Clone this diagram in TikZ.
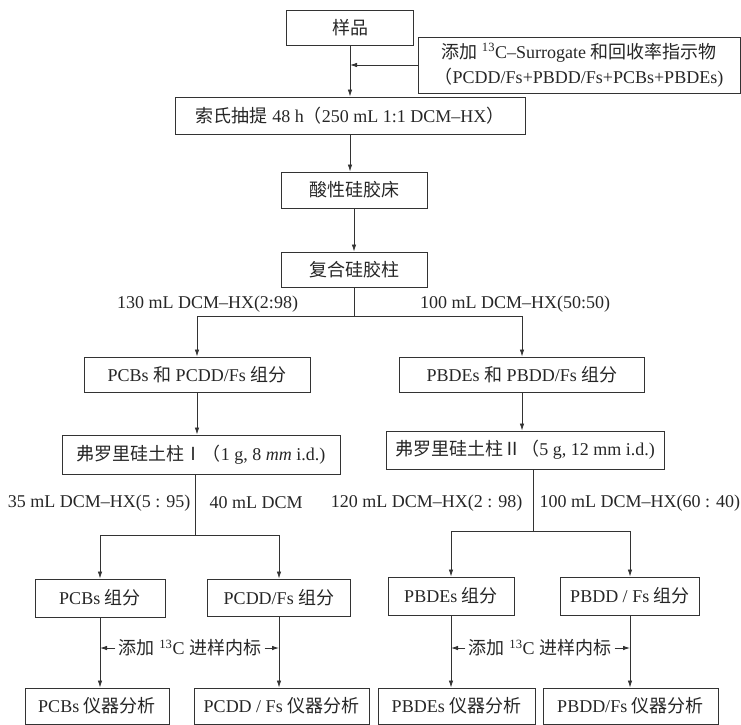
\documentclass[tikz,border=0pt]{standalone}
\usepackage{fontspec}
\setmainfont{Liberation Serif}
\newfontfamily\cjk{Noto Sans CJK SC}
\usepackage{tikz}
\usetikzlibrary{arrows.meta}
\newcommand{\zh}[1]{{\cjk #1}}

\begin{document}
\begin{tikzpicture}[x=1pt, y=-1pt, font=\fontsize{18}{25}\selectfont, text=black!85,
  box/.style={draw=black!80, line width=0.9pt, inner sep=2pt, align=center},
  link/.style={draw=black!80, line width=0.8pt},
  arr/.style={link, -{Latex[length=7pt,width=4.5pt]}}]

\useasboundingbox (0,0) rectangle (741,724);

\node[box, minimum width=127, minimum height=35] (sample) at (350,27.5) {\zh{样品}};
\node[box, minimum width=322, minimum height=56] (spike) at (579,65)
  {\zh{添加} \textsuperscript{13}C–Surrogate \zh{和回收率指示物}\\\zh{（}PCDD/Fs+PBDD/Fs+PCBs+PBDEs)};
\node[box, minimum width=350, minimum height=37] (soxhlet) at (350,115.5) {\zh{索氏抽提} 48 h\zh{（}250 mL 1:1 DCM–HX\zh{）}};
\node[box, minimum width=146, minimum height=36] (acid) at (354,190) {\zh{酸性硅胶床}};
\node[box, minimum width=146, minimum height=35] (multi) at (354,269.5) {\zh{复合硅胶柱}};

\node[box, minimum width=226, minimum height=35] (fracA) at (197,374.5) {PCBs \zh{和} PCDD/Fs \zh{组分}};
\node[box, minimum width=245, minimum height=35] (fracB) at (522,374.5) {PBDEs \zh{和} PBDD/Fs \zh{组分}};
\node (volA) at (207.5,304) {130 mL DCM–HX(2:98)};
\node (volB) at (515,304) {100 mL DCM–HX(50:50)};

\node[box, minimum width=278, minimum height=39] (floriA) at (201,454.5) {\zh{弗罗里硅土柱Ⅰ（}1 g, 8 \textit{mm} i.d.)};
\node[box, minimum width=278, minimum height=38] (floriB) at (525,450) {\zh{弗罗里硅土柱Ⅱ（}5 g, 12 mm i.d.)};
\node[anchor=east] (volC) at (194,503) {35 mL DCM–HX(5 : 95)};
\node[anchor=west] (volD) at (206,503) {40 mL DCM};
\node[anchor=east] (volE) at (526,503) {120 mL DCM–HX(2 : 98)};
\node[anchor=west] (volF) at (536,503) {100 mL DCM–HX(60 : 40)};

\node[box, minimum width=130, minimum height=38] (pcbs) at (100,598) {PCBs \zh{组分}};
\node[box, minimum width=143, minimum height=37] (pcdd) at (279,597.5) {PCDD/Fs \zh{组分}};
\node[box, minimum width=126, minimum height=38] (pbdes) at (451,596) {PBDEs \zh{组分}};
\node[box, minimum width=139, minimum height=38] (pbdd) at (630,596) {PBDD / Fs \zh{组分}};

\node (injA) at (190,648) {\zh{添加} \textsuperscript{13}C \zh{进样内标}};
\node (injB) at (540,648) {\zh{添加} \textsuperscript{13}C \zh{进样内标}};

\node[box, minimum width=144, minimum height=36] (pcbsI) at (97,706) {PCBs \zh{仪器分析}};
\node[box, minimum width=175, minimum height=36] (pcddI) at (281.5,706) {PCDD / Fs \zh{仪器分析}};
\node[box, minimum width=157, minimum height=36] (pbdesI) at (456.5,706) {PBDEs \zh{仪器分析}};
\node[box, minimum width=175, minimum height=36] (pbddI) at (630.5,706) {PBDD/Fs \zh{仪器分析}};

\coordinate (s1) at (352,316);
\coordinate (s2) at (195,535);
\coordinate (s3) at (533,531);

\draw[arr] (sample.south) -- (sample.south |- soxhlet.north);
\draw[arr] (spike.west) -- (spike.west -| sample.south);
\draw[arr] (soxhlet.south) -- (soxhlet.south |- acid.north);
\draw[arr] (acid.south) -- (multi.north);

\draw[link] (multi.south) -- (multi.south |- s1);
\draw[link] (fracA.north |- s1) -- (fracB.north |- s1);
\draw[arr] (fracA.north |- s1) -- (fracA.north);
\draw[arr] (fracB.north |- s1) -- (fracB.north);
\draw[arr] (fracA.south) -- (fracA.south |- floriA.north);
\draw[arr] (fracB.south) -- (fracB.south |- floriB.north);

\draw[link] (floriA.south -| s2) -- (s2);
\draw[link] (pcbs.north |- s2) -- (pcdd.north |- s2);
\draw[arr] (pcbs.north |- s2) -- (pcbs.north);
\draw[arr] (pcdd.north |- s2) -- (pcdd.north);
\draw[link] (floriB.south -| s3) -- (s3);
\draw[link] (pbdes.north |- s3) -- (pbdd.north |- s3);
\draw[arr] (pbdes.north |- s3) -- (pbdes.north);
\draw[arr] (pbdd.north |- s3) -- (pbdd.north);

\draw[arr] (pcbs.south) -- (pcbs.south |- pcbsI.north);
\draw[arr] (pcdd.south) -- (pcdd.south |- pcddI.north);
\draw[arr] (pbdes.south) -- (pbdes.south |- pbdesI.north);
\draw[arr] (pbdd.south) -- (pbdd.south |- pbddI.north);
\draw[arr] (injA.west) -- (injA.west -| pcbs.south);
\draw[arr] (injA.east) -- (injA.east -| pcdd.south);
\draw[arr] (injB.west) -- (injB.west -| pbdes.south);
\draw[arr] (injB.east) -- (injB.east -| pbdd.south);

\end{tikzpicture}
\end{document}
